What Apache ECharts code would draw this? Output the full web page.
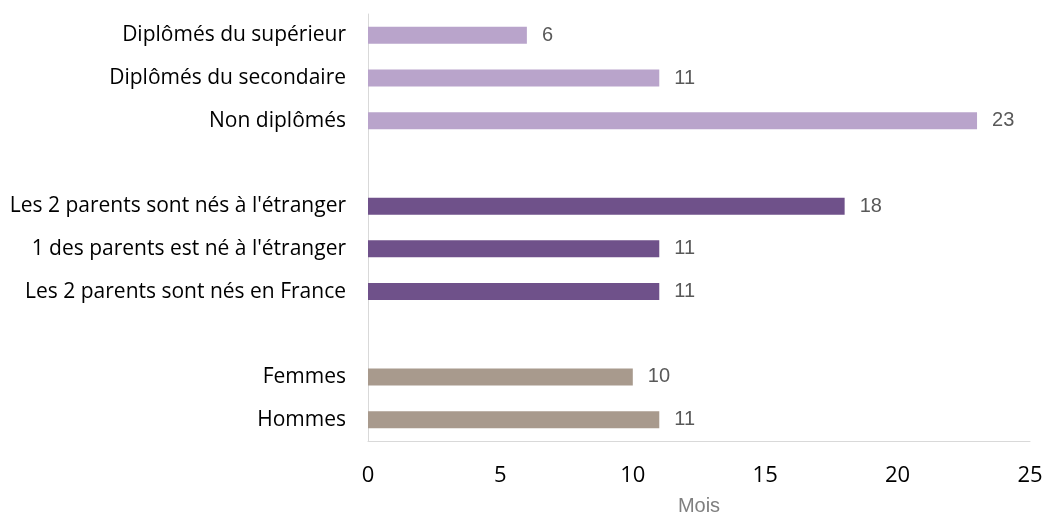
<!DOCTYPE html>
<html>
<head>
<meta charset="utf-8">
<script src="https://cdn.jsdelivr.net/npm/echarts@6/dist/echarts.min.js"></script>
<style>
  html, body { margin: 0; padding: 0; background: #fff; }
  #chart { width: 1048px; height: 516px; }
</style>
</head>
<body>
<div id="chart"></div>
<script>
// categories, bottom to top (blank ones make the gaps between groups)
const categories = [
  'Hommes', 'Femmes', '',
  'Les 2 parents sont nés en France', "1 des parents est né à l'étranger", "Les 2 parents sont nés à l'étranger", ' ',
  'Non diplômés', 'Diplômés du secondaire', 'Diplômés du supérieur'
];
const values = [11, 10, null, 11, 11, 18, null, 23, 11, 6];
const groups = ['sexe', 'sexe', null, 'origine', 'origine', 'origine', null, 'diplome', 'diplome', 'diplome'];
const groupColors = { sexe: '#A89A8D', origine: '#6F518A', diplome: '#B9A4CB' };

let chart = echarts.init(document.getElementById('chart'));

let seriesData = values.map((v, i) => v === null ? '-' : {
  value: v,
  itemStyle: { color: groupColors[groups[i]] }
});

chart.setOption({
  animation: false,
  grid: { left: 368, right: 18, top: 14, bottom: 75, containLabel: false, outerBoundsMode: 'none' },
  xAxis: {
    type: 'value',
    min: 0, max: 25, interval: 5,
    name: 'Mois',
    nameLocation: 'middle',
    nameGap: 55,
    nameTextStyle: { color: '#7f7f7f', fontSize: 20, fontFamily: "'Liberation Sans Narrow', 'Liberation Sans'" },
    axisLine: { show: true, lineStyle: { color: '#d9d9d9' } },
    axisTick: { show: false },
    splitLine: { show: false },
    axisLabel: { color: '#000', fontSize: 22, fontFamily: 'Open Sans', margin: 24 }
  },
  yAxis: {
    type: 'category',
    data: categories,
    axisLine: { show: true, lineStyle: { color: '#d9d9d9' } },
    axisTick: { show: false },
    axisLabel: { color: '#000', fontSize: 21, fontFamily: 'Open Sans', margin: 22 }
  },
  series: [{
    type: 'bar',
    data: seriesData,
    barWidth: 17,
    label: {
      show: true,
      position: 'right',
      distance: 15,
      color: '#595959',
      fontSize: 20,
      fontFamily: "'Liberation Sans Narrow', 'Liberation Sans'"
    }
  }]
});
</script>
</body>
</html>
